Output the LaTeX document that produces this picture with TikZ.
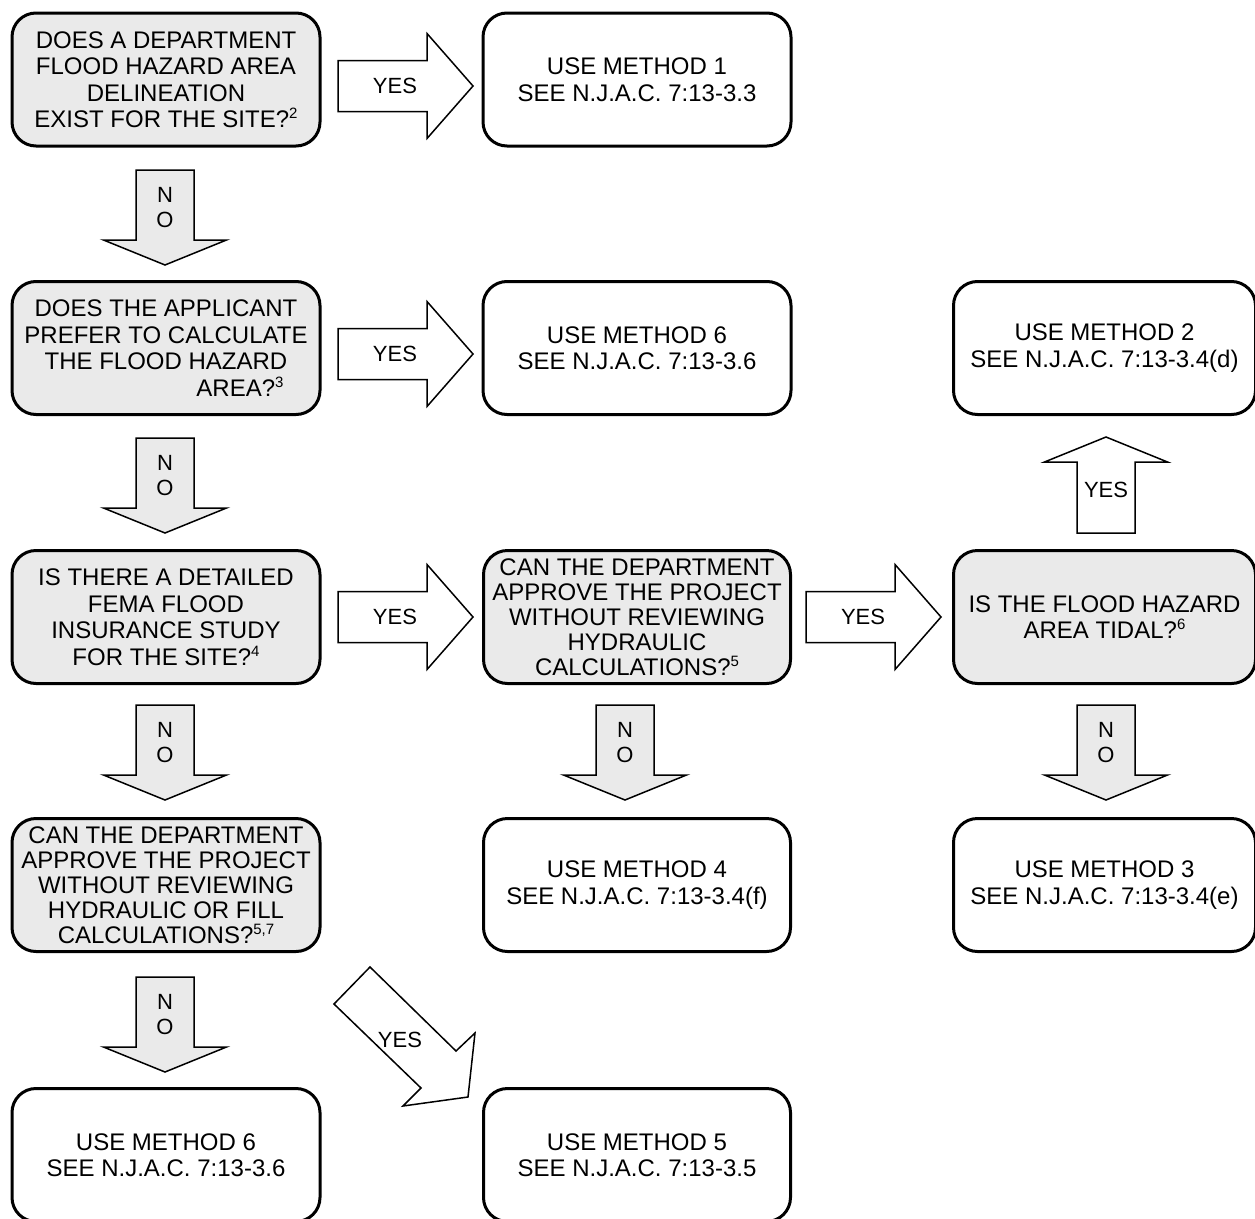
\documentclass[tikz,border=0pt]{standalone}
\usepackage{fontspec}
\setmainfont{Liberation Sans}
\definecolor{boxgray}{RGB}{234,234,234}
\newcommand\sups[1]{\raisebox{9pt}{\fontsize{15}{15}\selectfont #1}}
\tikzset{
  qbox/.style={draw, line width=3pt, rounded corners=24pt, fill=boxgray,
    minimum width=308pt, minimum height=133pt, align=center, inner sep=0pt,
    font=\fontsize{24}{26.5}\selectfont},
  qboxfive/.style={qbox, font=\fontsize{24}{25}\selectfont},
  abox/.style={qbox, fill=white},
  blk/.style={draw, line width=1.5pt, line join=miter, fill=white},
  noblk/.style={blk, fill=boxgray},
  lbl/.style={font=\fontsize{22}{22}\selectfont, inner sep=0pt},
}
\begin{document}
\begin{tikzpicture}[x=1pt,y=-1pt]
\useasboundingbox (0,0) rectangle (1255,1218);
\clip (0,0) rectangle (1255,1218);
\fill[white] (0,0) rectangle (1255,1218);

% boxes
\node[qbox] (q1) at (166,79.5) {DOES A DEPARTMENT\\FLOOD HAZARD AREA\\DELINEATION\\EXIST FOR THE SITE?\sups{2}};
\node[abox] (m1) at (637,79.5) {USE METHOD 1\\SEE N.J.A.C. 7:13-3.3};
\node[qbox] (q2) at (166,348) {DOES THE APPLICANT\\PREFER TO CALCULATE\\THE FLOOD HAZARD\\\hspace*{148pt}AREA?\sups{3}};
\node[abox] (m6a) at (637,348) {USE METHOD 6\\SEE N.J.A.C. 7:13-3.6};
\node[abox, minimum width=302pt] (m2) at (1104.5,348) {USE METHOD 2\\SEE N.J.A.C. 7:13-3.4(d)};
\node[qbox] (q3) at (166,617) {IS THERE A DETAILED\\FEMA FLOOD\\INSURANCE STUDY\\FOR THE SITE?\sups{4}};
\node[qboxfive, minimum width=307pt] (q4) at (637,617) {CAN THE DEPARTMENT\\APPROVE THE PROJECT\\WITHOUT REVIEWING\\HYDRAULIC\\CALCULATIONS?\sups{5}};
\node[qbox, minimum width=302pt] (q5) at (1104.5,617) {IS THE FLOOD HAZARD\\AREA TIDAL?\sups{6}};
\node[qboxfive] (q6) at (166,885) {CAN THE DEPARTMENT\\APPROVE THE PROJECT\\WITHOUT REVIEWING\\HYDRAULIC OR FILL\\CALCULATIONS?\sups{5,7}};
\node[abox, minimum width=307pt] (m4) at (637,885) {USE METHOD 4\\SEE N.J.A.C. 7:13-3.4(f)};
\node[abox, minimum width=302pt] (m3) at (1104.5,885) {USE METHOD 3\\SEE N.J.A.C. 7:13-3.4(e)};
\node[abox] (m6b) at (166,1155) {USE METHOD 6\\SEE N.J.A.C. 7:13-3.6};
\node[abox, minimum width=307pt] (m5) at (637,1155) {USE METHOD 5\\SEE N.J.A.C. 7:13-3.5};

% right (YES) arrows
\foreach \nm/\sx/\cy in {ya/338/86, yb/338/354, yc/338/617, yd/806/617}{
  \begin{scope}[shift={(\sx,\cy)}]
    \draw[blk] (0,-25.5) -- (89,-25.5) -- (89,-52.5) -- (135,0) -- (89,52.5) -- (89,25.5) -- (0,25.5) -- cycle;
    \node[lbl] (\nm) at (57,0) {YES};
  \end{scope}
}

% down (NO) arrows
\foreach \nm/\cx/\ty in {na/165/170, nb/165/438, nc/165/705, nd/165/977, ne/625/705, nf/1106/705}{
  \begin{scope}[shift={(\cx,\ty)}]
    \draw[noblk] (-29,0) -- (29,0) -- (29,70) -- (61.5,70) -- (0,95) -- (-61.5,70) -- (-29,70) -- cycle;
    \node[lbl] (\nm-n) at (0,25) {N};
    \node[lbl] (\nm-o) at (0,50) {O};
  \end{scope}
}

% up (YES) arrow
\begin{scope}[shift={(1106,533)}]
  \draw[blk] (-29,0) -- (29,0) -- (29,-71) -- (61.5,-71) -- (0,-96) -- (-61.5,-71) -- (-29,-71) -- cycle;
  \node[lbl] (yu) at (0,-43) {YES};
\end{scope}

% diagonal (YES) arrow
\draw[blk] (334,1004) -- (370,967) -- (456,1051) -- (475,1033) -- (468,1097) -- (403,1106) -- (421,1088) -- cycle;
\node[lbl] (ydiag) at (400,1040) {YES};
\end{tikzpicture}
\end{document}
